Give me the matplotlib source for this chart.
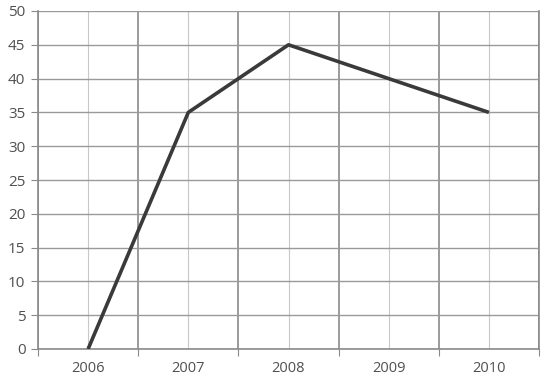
import matplotlib
matplotlib.use("Agg")
import matplotlib.pyplot as plt
from matplotlib.ticker import MultipleLocator

years = ["2006", "2007", "2008", "2009", "2010"]
values = [0, 35, 45, 40, 35]

plt.rcParams['font.family'] = ['Open Sans', 'DejaVu Sans']

fig = plt.figure(figsize=(5.49, 3.79), dpi=100)
ax = fig.add_axes([38 / 549, 1 - 349 / 379, 501 / 549, 338 / 379])

x = list(range(len(years)))
ax.plot(x, values, color='#3a3a3a', linewidth=2.6, solid_capstyle='butt', zorder=3)

ax.set_xlim(-0.5, len(years) - 0.5)
ax.set_ylim(0, 50)
ax.yaxis.set_major_locator(MultipleLocator(5))

# category boundaries carry the darker grid, centers a faint one
ax.set_xticks([i - 0.5 for i in range(len(years) + 1)])
ax.set_xticklabels([])
ax.set_xticks(x, minor=True)
ax.set_xticklabels(years, minor=True)
ax.grid(True, which='major', axis='x', color='#8a8a8a', linewidth=1.2)
ax.grid(True, which='minor', axis='x', color='#c8c8c8', linewidth=0.8)
ax.grid(True, which='major', axis='y', color='#9a9a9a', linewidth=1.0)

ax.tick_params(axis='x', which='major', length=5, color='#8a8a8a', direction='out')
ax.tick_params(axis='x', which='minor', length=0, pad=9, labelsize=10.5, labelcolor='#505050')
ax.tick_params(axis='y', length=5, color='#8a8a8a', labelsize=11, labelcolor='#505050', pad=4)

ax.spines['top'].set_visible(False)
for side in ['left', 'bottom', 'right']:
    ax.spines[side].set_color('#8a8a8a')
    ax.spines[side].set_linewidth(1.2)
ax.set_axisbelow(True)

fig.savefig("out.png", dpi=100)
